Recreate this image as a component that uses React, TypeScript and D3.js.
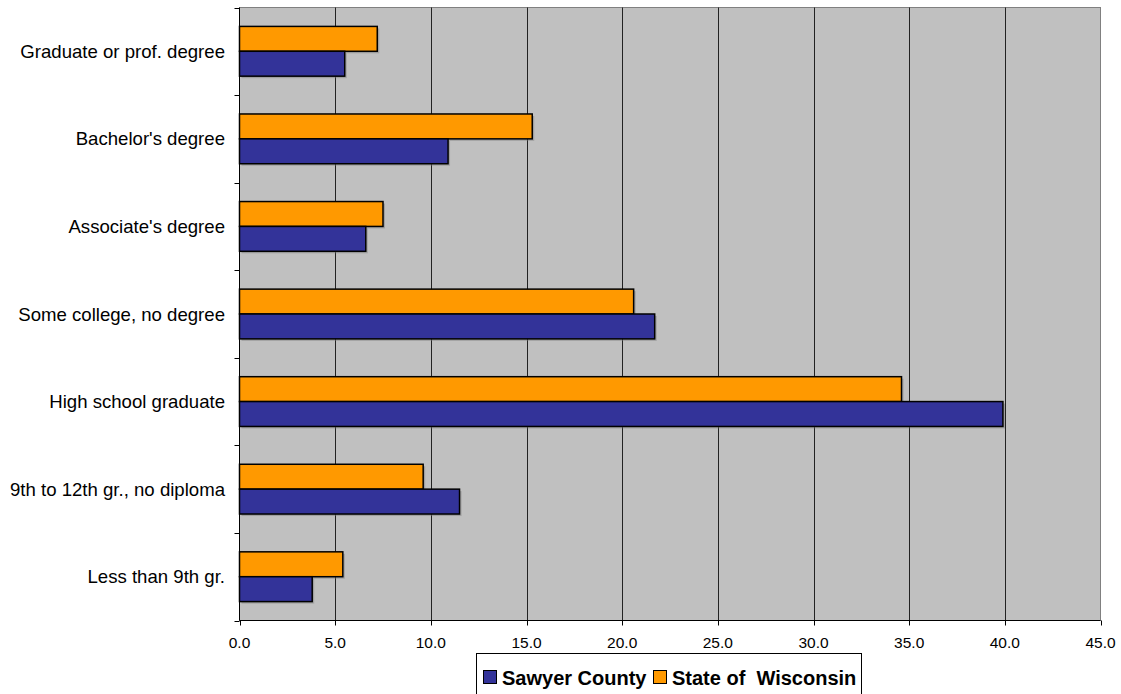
import { useRef, useEffect } from "react";
import * as d3 from "d3";

const categories = [
  "Graduate or prof. degree",
  "Bachelor's degree",
  "Associate's degree",
  "Some college, no degree",
  "High school graduate",
  "9th to 12th gr., no diploma",
  "Less than 9th gr.",
];
const sawyer = [5.5, 10.9, 6.6, 21.7, 39.9, 11.5, 3.8];
const wisconsin = [7.2, 15.3, 7.5, 20.6, 34.6, 9.6, 5.4];
const xTicks = [0, 5, 10, 15, 20, 25, 30, 35, 40, 45];
const seriesNames = ["Sawyer County", "State of  Wisconsin"];

const BLUE = "#333399";
const ORANGE = "#ff9900";

export default function App() {
  const svgRef = useRef<SVGSVGElement>(null);

  useEffect(() => {
    if (!svgRef.current) return;
    const svg = d3.select(svgRef.current);
    svg.selectAll("*").remove();

    const left = 239.5, right = 1100.5, top = 7.5, bottom = 620.5;
    const font = "Arial, 'Liberation Sans', sans-serif";

    const x = d3.scaleLinear().domain([0, 45]).range([left, right]);
    const y = d3.scaleBand().domain(categories).range([top, bottom]).paddingInner(0).paddingOuter(0);
    const inner = d3.scaleBand().domain(["wi", "sc"]).range([0, y.bandwidth()]).paddingOuter(0.76);

    // plot background
    svg.append("rect")
      .attr("x", left).attr("y", top)
      .attr("width", right - left).attr("height", bottom - top)
      .attr("fill", "#c0c0c0").attr("stroke", "#808080").attr("stroke-width", 1);

    // gridlines
    svg.append("g").selectAll("line")
      .data(xTicks.filter(d => d > 0 && d < 45))
      .join("line")
      .attr("x1", d => Math.round(x(d)) + 0.5).attr("x2", d => Math.round(x(d)) + 0.5)
      .attr("y1", top).attr("y2", bottom)
      .attr("stroke", "#222").attr("stroke-width", 1);

    const rows = categories.map((c, i) => ({ c, sc: sawyer[i], wi: wisconsin[i] }));
    const bars = svg.append("g");
    rows.forEach(r => {
      [["wi", r.wi, ORANGE], ["sc", r.sc, BLUE]].forEach(([k, v, col]) => {
        const by = (y(r.c) as number) + (inner(k as string) as number);
        const w = x(v as number) - x(0);
        bars.append("rect")
          .attr("x", x(0) + 2).attr("y", by + 2)
          .attr("width", w).attr("height", inner.bandwidth())
          .attr("fill", "#7a7a7a").attr("opacity", 0.45);
        bars.append("rect")
          .attr("x", x(0)).attr("y", by)
          .attr("width", w).attr("height", inner.bandwidth())
          .attr("fill", col as string).attr("stroke", "#000").attr("stroke-width", 1.5);
      });
    });

    // y axis
    const yAxis = svg.append("g");
    yAxis.append("line").attr("x1", left).attr("x2", left).attr("y1", top).attr("y2", bottom).attr("stroke", "#000");
    d3.range(categories.length + 1).forEach(i => {
      const ty = Math.round(top + i * y.step()) + 0.5;
      yAxis.append("line").attr("x1", left - 5).attr("x2", left).attr("y1", ty).attr("y2", ty).attr("stroke", "#000");
    });
    yAxis.selectAll("text").data(categories).join("text")
      .attr("x", 225).attr("y", d => (y(d) as number) + y.bandwidth() / 2)
      .attr("dy", "0.35em").attr("text-anchor", "end")
      .attr("font-family", font).attr("font-size", 18.6).attr("fill", "#000")
      .text(d => d);

    // x axis
    const xAxis = svg.append("g");
    xAxis.append("line").attr("x1", left).attr("x2", right).attr("y1", bottom).attr("y2", bottom).attr("stroke", "#000");
    xAxis.selectAll("line.t").data(xTicks).join("line").attr("class", "t")
      .attr("x1", d => Math.round(x(d)) + 0.5).attr("x2", d => Math.round(x(d)) + 0.5)
      .attr("y1", bottom).attr("y2", bottom + 5).attr("stroke", "#000");
    xAxis.selectAll("text").data(xTicks).join("text")
      .attr("x", d => x(d)).attr("y", 643)
      .attr("dy", "0.35em").attr("text-anchor", "middle")
      .attr("font-family", font).attr("font-size", 15.5).attr("fill", "#000")
      .text(d => d.toFixed(1));

    // legend
    const lg = svg.append("g");
    lg.append("rect").attr("x", 476.5).attr("y", 653.5).attr("width", 385).attr("height", 45)
      .attr("fill", "#fff").attr("stroke", "#000");
    const items = [
      { name: seriesNames[0], color: BLUE, sx: 483, tx: 502 },
      { name: seriesNames[1], color: ORANGE, sx: 653, tx: 672 },
    ];
    items.forEach(it => {
      lg.append("rect").attr("x", it.sx + 0.5).attr("y", 670.5).attr("width", 13).attr("height", 13)
        .attr("fill", it.color).attr("stroke", "#000");
      lg.append("text").attr("x", it.tx).attr("y", 685)
        .attr("font-family", font).attr("font-size", 20).attr("font-weight", "bold")
        .attr("fill", "#000").attr("xml:space", "preserve").style("white-space", "pre")
        .text(it.name);
    });
  }, []);

  return (
    <svg
      ref={svgRef}
      width={1121}
      height={694}
      style={{ position: "absolute", left: 0, top: 0, background: "#fff" }}
    />
  );
}
